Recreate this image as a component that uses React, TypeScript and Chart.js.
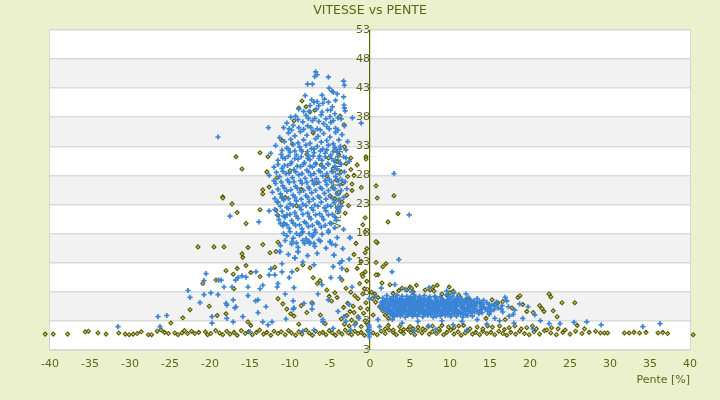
import { useEffect, useRef } from "react";
import { Chart, registerables } from "chart.js";

Chart.register(...registerables);

const chartTitle = "VITESSE vs PENTE";
const xAxisTitle = "Pente [%]";
const yAxisTitle = "Vitesse [km/h]";

const xMin = -40;
const xMax = 40;
const xStep = 5;
const yTickValues = [-2, 3, 8, 13, 18, 23, 28, 33, 38, 43, 48, 53];
const yTickLabels = ["3", "3", "8", "13", "18", "23", "28", "33", "38", "43", "48", "53"];

// Blue series: upper hump (descending slopes)
const blueHumpTop: [number, number][] = [
  [-6.8, 45.8], [-6.9, 45.0], [-7.8, 43.7], [-7.2, 43.7], [-5.2, 44.9], [-3.3, 44.2], [-3.2, 43.5], [-5.1, 43.0],
  [-4.6, 42.3], [-8.1, 41.7], [-6.0, 41.8], [-5.7, 41.1], [-4.1, 42.0], [-3.3, 41.5], [-3.2, 39.6], [-7.0, 40.6],
  [-6.4, 40.0], [-8.9, 39.4], [-7.6, 39.0], [-5.3, 39.2], [-4.4, 38.6], [-9.3, 38.2], [-6.1, 38.4], [-3.6, 37.7],
  [-2.2, 37.9], [-10.4, 37.0], [-8.4, 37.2], [-7.2, 37.4], [-5.8, 36.9], [-4.9, 37.1], [-12.7, 36.2], [-10.8, 36.2],
  [-10.1, 36.0], [-19.0, 34.6], [-1.1, 37.0], [-3.25, 40.1], [-3.1, 39.1], [-4.75, 42.5], [-6.6, 45.3],
  [-9.9, 38.0], [-8.0, 38.3], [-6.9, 37.8], [-5.0, 38.1], [-4.0, 37.9], [-9.6, 36.6], [-8.9, 36.2], [-7.8, 36.5],
  [-6.6, 36.0], [-5.4, 36.4], [-4.3, 36.1], [-3.2, 36.5], [-7.5, 40.0], [-5.9, 40.4], [-4.7, 39.8],
  [-9.8, 35.8], [-8.3, 35.9], [-7.4, 36.2], [-6.2, 35.8], [-5.1, 36.0], [-4.0, 35.8], [-9.0, 37.6], [-7.7, 37.8],
  [-6.4, 37.3], [-5.5, 37.7], [-4.6, 37.4], [-8.3, 39.0], [-6.7, 39.4], [-6.0, 38.9], [-4.9, 39.2], [-7.3, 41.0],
  [-6.6, 40.7], [-5.2, 40.6], [-4.3, 40.9],
];

const blueHumpCore: [number, number][] = [
  [-10.2, 35.3], [-9.4, 34.8], [-8.7, 35.5], [-7.9, 34.9], [-7.1, 35.6], [-6.5, 34.7], [-5.8, 35.2], [-5.0, 34.6], [-4.3, 35.4], [-3.5, 35.0], [-11.3, 34.5],
  [-10.7, 33.8], [-9.9, 34.2], [-9.0, 33.6], [-8.3, 34.1], [-7.5, 33.5], [-6.8, 34.3], [-6.1, 33.7], [-5.4, 34.0], [-4.6, 33.4], [-3.9, 34.1], [-2.8, 33.8],
  [-11.8, 33.1], [-10.4, 32.7], [-9.6, 33.3], [-8.8, 32.9], [-8.0, 33.2], [-7.3, 32.6], [-6.6, 33.0], [-5.9, 32.5], [-5.2, 33.2], [-4.4, 32.8], [-3.7, 33.0], [-3.0, 32.4],
  [-12.4, 31.8], [-11.1, 31.6], [-10.0, 32.0], [-9.2, 31.5], [-8.5, 32.1], [-7.7, 31.4], [-7.0, 31.9], [-6.3, 31.3], [-5.6, 31.8], [-4.9, 31.5], [-4.1, 32.0], [-3.3, 31.2],
  [-11.5, 30.6], [-10.6, 30.9], [-9.8, 30.3], [-9.0, 30.8], [-8.2, 30.2], [-7.5, 30.7], [-6.8, 30.1], [-6.0, 30.6], [-5.3, 30.0], [-4.5, 30.5], [-3.8, 30.2], [-2.6, 30.4],
  [-12.0, 29.4], [-11.0, 29.2], [-10.3, 29.7], [-9.5, 29.0], [-8.7, 29.5], [-7.9, 28.9], [-7.2, 29.4], [-6.4, 28.8], [-5.7, 29.3], [-4.8, 28.7], [-4.1, 29.1], [-3.2, 28.6],
  [-12.6, 28.0], [-11.3, 27.8], [-10.5, 28.3], [-9.7, 27.6], [-8.9, 28.1], [-8.1, 27.5], [-7.4, 28.0], [-6.7, 27.4], [-5.9, 27.9], [-5.1, 27.3], [-4.3, 27.8], [-3.5, 27.2],
  [-11.8, 26.6], [-10.9, 26.2], [-10.1, 26.8], [-9.3, 26.1], [-8.5, 26.6], [-7.7, 26.0], [-7.0, 26.5], [-6.2, 25.9], [-5.4, 26.4], [-4.6, 25.8], [-3.8, 26.3], [-2.9, 25.7],
  [-12.2, 25.1], [-11.2, 24.8], [-10.4, 25.3], [-9.6, 24.6], [-8.8, 25.1], [-8.0, 24.5], [-7.3, 25.0], [-6.5, 24.4], [-5.7, 24.9], [-4.9, 24.3], [-4.1, 24.8], [-3.3, 24.2],
  [-11.6, 23.4], [-10.8, 23.8], [-10.0, 23.1], [-9.2, 23.6], [-8.4, 23.0], [-7.6, 23.5], [-6.9, 22.9], [-6.1, 23.4], [-5.3, 22.8], [-4.5, 23.3], [-3.6, 22.7],
  [-11.9, 22.1], [-11.0, 21.8], [-10.2, 22.3], [-9.4, 21.6], [-8.6, 22.1], [-7.8, 21.5], [-7.1, 22.0], [-6.3, 21.4], [-5.5, 21.9], [-4.7, 21.3], [-3.9, 21.8],
  [-11.4, 20.4], [-10.6, 20.8], [-9.8, 20.2], [-9.0, 20.6], [-8.2, 20.0], [-7.4, 20.5], [-6.6, 19.9], [-5.8, 20.4], [-5.0, 19.8], [-4.2, 20.3],
  [-10.9, 19.3], [-10.1, 18.9], [-9.3, 19.4], [-8.5, 18.8], [-7.7, 19.2], [-6.9, 18.6], [-6.1, 19.1], [-5.2, 18.5], [-4.4, 19.0], [-3.3, 18.7],
  [-10.4, 17.6], [-9.6, 17.2], [-8.8, 17.7], [-8.0, 17.1], [-7.6, 16.6], [-7.2, 17.5], [-6.4, 16.9], [-5.0, 16.6], [-4.1, 17.3], [-2.5, 17.3],
  [-11.2, 15.9], [-9.8, 16.2], [-9.0, 15.6], [-8.2, 16.3], [-6.9, 15.8], [-5.5, 15.5], [-4.3, 16.0], [-3.4, 15.4],
  [-11.3, 14.9], [-10.2, 14.4], [-9.0, 14.9], [-7.8, 14.2], [-6.6, 14.6], [-4.5, 14.3], [-3.5, 13.3],
  [-12.4, 11.9], [-11.0, 12.8], [-9.4, 13.8], [-8.4, 13.1], [-7.0, 12.6], [-4.6, 12.3], [-3.8, 12.9], [-2.6, 13.6],
];

const blueHumpFill: [number, number][] = [
  [-11.0, 32.3], [-10.2, 32.5], [-9.4, 32.2], [-8.6, 32.4], [-7.8, 32.1], [-7.0, 32.5], [-6.2, 32.2], [-5.4, 32.4], [-4.6, 32.1], [-3.8, 32.5],
  [-10.9, 31.0], [-10.2, 31.3], [-9.4, 30.9], [-8.6, 31.2], [-7.8, 30.9], [-7.1, 31.3], [-6.4, 30.9], [-5.6, 31.2], [-4.8, 30.9], [-4.0, 31.2], [-3.0, 31.0],
  [-11.5, 29.9], [-10.7, 29.7], [-9.9, 30.0], [-9.1, 29.6], [-8.3, 29.9], [-7.5, 29.6], [-6.8, 29.9], [-6.0, 29.6], [-5.2, 29.9], [-4.4, 29.6], [-3.6, 29.9],
  [-11.7, 28.5], [-10.9, 28.7], [-10.1, 28.4], [-9.3, 28.6], [-8.5, 28.3], [-7.7, 28.6], [-7.0, 28.3], [-6.2, 28.6], [-5.4, 28.3], [-4.6, 28.6], [-3.8, 28.3],
  [-12.0, 27.1], [-11.1, 26.9], [-10.3, 27.2], [-9.5, 26.9], [-8.7, 27.1], [-7.9, 26.8], [-7.2, 27.1], [-6.4, 26.8], [-5.6, 27.1], [-4.8, 26.8], [-4.0, 27.1], [-3.1, 26.9],
  [-11.5, 25.6], [-10.7, 25.8], [-9.9, 25.5], [-9.1, 25.8], [-8.3, 25.4], [-7.6, 25.7], [-6.8, 25.4], [-6.0, 25.7], [-5.2, 25.4], [-4.4, 25.7], [-3.6, 25.4],
  [-11.9, 24.0], [-11.0, 24.3], [-10.2, 24.0], [-9.4, 24.2], [-8.6, 23.9], [-7.8, 24.2], [-7.1, 23.9], [-6.3, 24.2], [-5.5, 23.9], [-4.7, 24.1], [-3.9, 23.8],
  [-11.2, 22.7], [-10.4, 22.5], [-9.6, 22.8], [-8.8, 22.5], [-8.0, 22.8], [-7.3, 22.4], [-6.5, 22.7], [-5.7, 22.4], [-4.9, 22.7], [-4.1, 22.4],
  [-11.6, 21.2], [-10.8, 21.0], [-10.0, 21.3], [-9.2, 21.0], [-8.4, 21.3], [-7.6, 20.9], [-6.8, 21.2], [-6.0, 20.9], [-5.2, 21.2], [-4.4, 20.9],
  [-11.2, 19.7], [-10.4, 19.5], [-9.6, 19.8], [-8.8, 19.5], [-8.0, 19.8], [-7.2, 19.4], [-6.4, 19.7], [-5.6, 19.4], [-4.8, 19.7],
  [-10.8, 18.0], [-10.0, 18.3], [-9.2, 18.0], [-8.4, 18.3], [-7.6, 18.0], [-6.8, 18.2], [-6.0, 17.9], [-5.2, 18.2],
  [-10.6, 16.8], [-9.2, 16.4], [-8.4, 16.8], [-7.0, 16.3], [-6.2, 16.7], [-4.8, 16.2],
];

const blueLeft: [number, number][] = [
  [-17.5, 21.0], [-13.9, 20.0], [-12.6, 21.9], [-11.5, 23.4], [-11.0, 24.1], [-10.4, 21.2], [-10.75, 19.8], [-9.75, 16.6],
  [-7.75, 16.6], [-7.5, 16.3], [-9.0, 14.9], [-9.4, 13.8], [-11.25, 14.9], [-8.5, 18.1], [-7.1, 17.8], [-5.0, 16.6],
  [-4.5, 14.3], [-2.5, 17.3], [-20.5, 11.1], [-20.75, 9.9], [-18.9, 10.0], [-18.6, 10.0], [-22.75, 8.2], [-22.5, 7.0],
  [-20.75, 7.5], [-19.9, 7.8], [-19.0, 7.5], [-21.25, 6.1], [-18.25, 8.8], [-17.25, 8.8], [-16.5, 10.4], [-16.8, 10.0],
  [-16.0, 10.7], [-15.5, 10.5], [-15.25, 8.8], [-14.25, 11.4], [-13.75, 8.5], [-13.4, 9.1], [-12.6, 10.9], [-12.4, 11.9],
  [-11.9, 10.9], [-11.6, 8.8], [-11.5, 9.4], [-11.0, 11.4], [-10.1, 10.4], [-9.75, 11.4], [-18.0, 6.0], [-17.1, 6.6],
  [-16.75, 5.4], [-15.25, 7.3], [-14.0, 6.6], [-13.0, 5.4], [-14.0, 4.4], [-13.4, 2.8], [-12.75, 2.3], [-9.5, 5.2],
  [-8.25, 6.0], [-7.25, 5.0], [-10.6, 7.6], [-9.6, 6.4], [-9.5, 8.7], [-6.5, 7.6], [-6.0, 9.2], [-5.9, 3.2],
  [-4.9, 10.4], [-3.75, 10.4], [-3.5, 12.0], [-3.25, 3.7], [-2.6, 5.8], [-2.25, 8.8], [-25.4, 3.9], [-26.5, 3.7],
  [-26.25, 2.0], [-31.5, 2.0], [-19.75, 3.7], [-19.75, 2.6], [-17.9, 5.7], [-17.9, 3.4], [-16.9, 5.2], [-17.1, 2.8],
  [-15.9, 3.7], [-14.3, 6.4], [-12.25, 2.8], [-10.5, 3.3], [-9.6, 5.0], [-7.2, 5.9], [-5.9, 2.8], [-4.6, 1.7],
  [-3.0, 2.9], [-1.9, 2.3], [-2.4, 1.4], [-8.4, 1.2], [-15.0, 1.1], [-7.0, 1.4], [-0.1, 0.2], [-0.1, 0.6],
  [-0.1, 1.0], [-0.1, 1.4], [-0.1, 1.8], [-0.1, 2.2], [-0.1, 6.8], [-1.4, 3.4], [-4.0, 4.6], [-5.2, 6.6],
];

// Blue series: uphill cluster
const blueCluster: [number, number][] = [
  [2.1, 7.3], [3.4, 7.4], [4.6, 7.2], [5.5, 7.5], [6.8, 7.3], [8.1, 7.2], [9.7, 7.4], [11.2, 7.1],
  [1.6, 6.9], [2.5, 6.8], [3.2, 7.0], [4.0, 6.8], [4.9, 6.9], [5.7, 7.0], [6.4, 6.8], [7.3, 6.9], [8.2, 7.0], [9.0, 6.8], [9.9, 6.9], [10.8, 6.8], [12.3, 7.0], [13.4, 6.8],
  [1.9, 6.4], [2.7, 6.5], [3.4, 6.6], [4.1, 6.4], [4.8, 6.5], [5.5, 6.6], [6.2, 6.4], [6.9, 6.5], [7.6, 6.6], [8.3, 6.4], [9.0, 6.5], [9.7, 6.6], [10.4, 6.4], [11.1, 6.5], [11.9, 6.6], [13.0, 6.4], [14.2, 6.5],
  [1.4, 6.1], [2.2, 6.0], [2.9, 6.2], [3.6, 6.1], [4.3, 6.0], [5.0, 6.2], [5.7, 6.1], [6.4, 6.0], [7.1, 6.2], [7.8, 6.1], [8.5, 6.0], [9.2, 6.2], [9.9, 6.1], [10.6, 6.0], [11.4, 6.2], [12.2, 6.1], [13.3, 6.0], [14.6, 6.1], [15.8, 6.2],
  [1.7, 5.7], [2.4, 5.6], [3.1, 5.8], [3.8, 5.7], [4.5, 5.6], [5.2, 5.8], [5.9, 5.7], [6.6, 5.6], [7.3, 5.8], [8.0, 5.7], [8.7, 5.6], [9.4, 5.8], [10.1, 5.7], [10.8, 5.6], [11.6, 5.8], [12.4, 5.7], [13.2, 5.6], [14.1, 5.8], [15.2, 5.7], [16.5, 5.6],
  [1.3, 5.3], [2.0, 5.2], [2.8, 5.4], [3.5, 5.3], [4.2, 5.2], [4.9, 5.4], [5.6, 5.3], [6.3, 5.2], [7.0, 5.4], [7.7, 5.3], [8.4, 5.2], [9.1, 5.4], [9.8, 5.3], [10.5, 5.2], [11.3, 5.4], [12.1, 5.3], [12.9, 5.2], [13.8, 5.4], [14.8, 5.3], [16.0, 5.2], [17.3, 5.4],
  [1.8, 4.9], [2.5, 4.8], [3.2, 5.0], [3.9, 4.9], [4.6, 4.8], [5.3, 5.0], [6.0, 4.9], [6.7, 4.8], [7.4, 5.0], [8.1, 4.9], [8.8, 4.8], [9.5, 5.0], [10.2, 4.9], [10.9, 4.8], [11.7, 5.0], [12.5, 4.9], [13.4, 4.8], [14.4, 5.0], [15.5, 4.9], [18.1, 4.8],
  [2.2, 4.5], [2.9, 4.4], [3.6, 4.6], [4.3, 4.5], [5.0, 4.4], [5.7, 4.6], [6.4, 4.5], [7.1, 4.4], [7.8, 4.6], [8.5, 4.5], [9.2, 4.4], [9.9, 4.6], [10.6, 4.5], [11.4, 4.4], [12.3, 4.6], [13.1, 4.5], [14.0, 4.4], [15.1, 4.6], [16.6, 4.5],
  [2.6, 4.1], [3.4, 4.0], [4.1, 4.2], [4.8, 4.1], [5.5, 4.0], [6.2, 4.2], [6.9, 4.1], [7.6, 4.0], [8.3, 4.2], [9.0, 4.1], [9.7, 4.0], [10.5, 4.2], [11.3, 4.1], [12.0, 4.0], [13.6, 4.2], [14.9, 4.1],
  [3.0, 3.7], [4.4, 3.6], [5.3, 3.8], [6.6, 3.7], [7.9, 3.6], [8.8, 3.8], [10.1, 3.7], [11.6, 3.6], [12.8, 3.8],
];

const blueClusterFill: [number, number][] = [
  [2.8, 7.1], [4.0, 7.2], [5.1, 7.1], [6.2, 7.2], [7.5, 7.1], [8.8, 7.1], [10.3, 7.2],
  [2.1, 6.7], [2.9, 6.6], [3.7, 6.7], [4.5, 6.6], [5.2, 6.7], [6.0, 6.6], [6.7, 6.7], [7.5, 6.6], [8.3, 6.7], [9.1, 6.6], [9.9, 6.7], [10.7, 6.6], [11.5, 6.7], [12.5, 6.6],
  [1.6, 6.3], [2.4, 6.2], [3.1, 6.3], [3.9, 6.2], [4.6, 6.3], [5.3, 6.2], [6.0, 6.3], [6.7, 6.2], [7.4, 6.3], [8.1, 6.2], [8.8, 6.3], [9.5, 6.2], [10.2, 6.3], [10.9, 6.2], [11.7, 6.3], [12.6, 6.2], [13.7, 6.3],
  [1.9, 5.9], [2.6, 5.8], [3.3, 5.9], [4.0, 5.8], [4.7, 5.9], [5.4, 5.8], [6.1, 5.9], [6.8, 5.8], [7.5, 5.9], [8.2, 5.8], [8.9, 5.9], [9.6, 5.8], [10.3, 5.9], [11.0, 5.8], [11.8, 5.9], [12.7, 5.8], [13.8, 5.9], [14.9, 5.8],
  [1.5, 5.5], [2.3, 5.4], [3.0, 5.5], [3.7, 5.4], [4.4, 5.5], [5.1, 5.4], [5.8, 5.5], [6.5, 5.4], [7.2, 5.5], [7.9, 5.4], [8.6, 5.5], [9.3, 5.4], [10.0, 5.5], [10.7, 5.4], [11.5, 5.5], [12.3, 5.4], [13.1, 5.5], [14.2, 5.4], [15.6, 5.5],
  [1.6, 5.1], [2.3, 5.0], [3.0, 5.1], [3.7, 5.0], [4.4, 5.1], [5.1, 5.0], [5.8, 5.1], [6.5, 5.0], [7.2, 5.1], [7.9, 5.0], [8.6, 5.1], [9.3, 5.0], [10.0, 5.1], [10.7, 5.0], [11.5, 5.1], [12.3, 5.0], [13.1, 5.1], [14.0, 5.0], [15.0, 5.1], [16.4, 5.0],
  [2.0, 4.7], [2.7, 4.6], [3.4, 4.7], [4.1, 4.6], [4.8, 4.7], [5.5, 4.6], [6.2, 4.7], [6.9, 4.6], [7.6, 4.7], [8.3, 4.6], [9.0, 4.7], [9.7, 4.6], [10.4, 4.7], [11.1, 4.6], [11.9, 4.7], [12.8, 4.6], [13.7, 4.7], [14.7, 4.6],
  [2.5, 4.3], [3.2, 4.2], [3.9, 4.3], [4.6, 4.2], [5.3, 4.3], [6.0, 4.2], [6.7, 4.3], [7.4, 4.2], [8.1, 4.3], [8.8, 4.2], [9.5, 4.3], [10.2, 4.2], [10.9, 4.3], [11.7, 4.2], [12.6, 4.3],
  [3.0, 3.9], [3.8, 3.8], [4.7, 3.9], [5.9, 3.8], [7.2, 3.9], [8.3, 3.8], [9.4, 3.9], [10.8, 3.8], [12.2, 3.9],
];

const blueRight: [number, number][] = [
  [1.4, 8.6], [3.1, 9.2], [4.4, 8.4], [5.2, 8.0], [7.4, 8.7], [9.6, 8.1], [10.5, 7.8], [12.0, 7.6], [2.8, 3.2],
  [4.0, 2.6], [6.0, 2.9], [7.3, 2.1], [9.0, 3.0], [10.4, 2.3], [11.5, 2.9], [13.4, 3.2], [14.6, 2.4], [16.2, 3.0],
  [17.4, 3.8], [18.0, 2.6], [19.1, 3.4], [19.75, 5.4], [20.6, 4.0], [21.3, 3.0], [22.4, 2.5], [23.75, 2.5], [25.5, 2.7],
  [27.1, 2.8], [28.9, 2.3], [34.1, 2.0], [36.25, 2.5], [42.9, 0.6], [17.1, 6.4], [18.7, 5.9], [16.9, 7.0], [3.0, 28.3],
  [4.9, 21.2], [3.6, 13.5], [2.75, 11.4], [0.6, 7.2], [1.0, 3.2], [1.2, 2.0], [5.5, 1.2], [8.2, 1.5], [12.1, 1.4],
  [20.4, 1.6], [15.6, 3.4], [17.9, 4.1],
];

// Olive series: near-flat base
const oliveBase: [number, number][] = [
  [-44.5, 1.3], [-41.8, 0.9], [-40.6, 0.7], [-39.6, 0.7], [-37.8, 0.7], [-35.6, 1.1], [-35.2, 1.2], [-34.0, 0.9], [-33.0, 0.7],
  [-31.4, 0.9], [-30.6, 0.7], [-30.1, 0.6], [-29.6, 0.7], [-29.1, 0.8], [-28.6, 1.1], [-27.7, 0.6], [-27.3, 0.6], [-26.6, 1.2],
  [-26.1, 1.4], [-25.7, 1.0], [-25.2, 0.8], [-24.4, 0.9], [-24.0, 0.6], [-23.5, 0.9], [-23.2, 1.3], [-22.8, 0.8], [-22.3, 1.2],
  [-21.9, 0.8], [-21.4, 1.0], [-20.6, 1.1], [-20.3, 0.6], [-19.9, 0.8], [-19.3, 1.3], [-18.8, 0.9], [-18.4, 0.6], [-17.9, 1.2],
  [-17.5, 0.7], [-17.0, 1.0], [-16.6, 0.5], [-16.1, 1.3], [-15.6, 0.8], [-15.2, 1.1], [-14.7, 0.6], [-14.2, 1.0], [-13.8, 1.4],
  [-13.3, 0.7], [-12.9, 1.0], [-12.4, 0.5], [-12.0, 1.2], [-11.5, 0.8], [-11.1, 1.1], [-10.6, 0.6], [-10.2, 1.3], [-9.8, 0.9],
  [-9.3, 0.5], [-8.9, 1.1], [-8.5, 0.7], [-8.0, 1.4], [-7.6, 0.9], [-7.2, 0.5], [-6.8, 1.2], [-6.3, 0.8], [-5.9, 1.0],
  [-5.5, 0.6], [-5.1, 1.3], [-4.7, 0.9], [-4.3, 0.5], [-3.9, 1.1], [-3.5, 0.7], [-3.1, 1.4], [-2.7, 0.9], [-2.3, 0.6],
  [-1.9, 1.2], [-1.5, 0.8], [-1.1, 1.0], [-0.7, 0.5], [-0.3, 1.3], [0.4, 0.9], [0.9, 0.6], [1.4, 1.2], [1.9, 0.8],
  [2.4, 1.4], [2.9, 1.0], [3.3, 0.6], [3.8, 1.2], [4.2, 0.8], [4.7, 1.5], [5.1, 1.0], [5.6, 0.6], [6.0, 1.3],
  [6.5, 0.9], [6.9, 1.4], [7.4, 0.7], [7.8, 1.1], [8.3, 0.8], [8.7, 1.3], [9.2, 0.6], [9.6, 1.0], [10.1, 1.4],
  [10.5, 0.7], [11.0, 1.1], [11.4, 0.5], [11.9, 0.9], [12.3, 1.3], [12.8, 0.7], [13.2, 1.0], [13.7, 0.6], [14.1, 1.2],
  [14.6, 0.8], [15.1, 1.0], [15.6, 0.6], [16.1, 1.2], [16.6, 0.8], [17.1, 0.5], [17.6, 1.0], [18.2, 0.7], [18.7, 1.2],
  [19.3, 0.8], [19.9, 0.6], [20.5, 1.1], [21.2, 0.7], [21.8, 1.3], [22.6, 0.9], [23.3, 0.6], [24.1, 1.0], [25.0, 0.7],
  [25.7, 1.2], [26.5, 0.8], [27.4, 1.0], [28.2, 1.2], [28.8, 0.9], [29.3, 0.9], [29.7, 0.9], [31.8, 0.9], [32.4, 0.9],
  [33.0, 1.0], [33.7, 0.9], [34.5, 1.0], [36.0, 0.9], [36.6, 1.0], [37.2, 0.8], [40.4, 0.6], [40.9, 0.9],
];

// Olive series: downhill spread
const oliveLeft: [number, number][] = [
  [-18.4, 24.3], [-16.75, 31.2], [-16.0, 29.1], [-13.75, 31.9], [-12.75, 31.2], [-12.9, 28.6], [-13.4, 25.5], [-12.6, 26.0],
  [-11.6, 27.6], [-11.0, 34.0], [-9.5, 37.4], [-8.9, 39.6], [-8.5, 40.8], [-8.0, 39.8], [-7.5, 38.9], [-6.9, 39.2],
  [-3.75, 38.2], [-3.25, 36.7], [-2.4, 31.0], [-1.6, 29.8], [-2.4, 29.0], [-0.5, 31.2], [-0.5, 30.8], [-2.0, 28.0],
  [-1.1, 25.9], [-2.25, 26.5], [-2.25, 25.4], [-4.4, 32.4], [-3.9, 31.6], [-3.2, 32.9], [-4.1, 30.4], [-3.0, 30.0],
  [-4.6, 29.2], [-3.6, 28.6], [-2.8, 27.8], [-4.2, 27.2], [-3.4, 26.6], [-4.7, 25.9], [-3.9, 25.1], [-2.9, 24.6],
  [-4.4, 24.0], [-3.5, 23.4], [-2.7, 22.8], [-4.0, 22.3], [-3.1, 21.5], [-5.2, 31.0], [-5.4, 27.9], [-5.0, 24.5],
  [-6.1, 29.8], [-6.7, 26.7], [-7.9, 31.6], [-8.6, 25.6], [-9.2, 22.8], [-10.0, 28.8], [-10.6, 24.2], [-9.7, 33.4],
  [-7.1, 35.3], [-18.4, 24.1], [-17.25, 23.1], [-16.6, 21.6], [-15.5, 19.7], [-13.75, 22.1], [-13.4, 24.8], [-11.75, 22.0],
  [-11.5, 21.1], [-21.5, 15.7], [-19.5, 15.7], [-18.25, 15.7], [-16.0, 14.5], [-15.9, 13.9], [-15.25, 15.6], [-13.4, 16.1],
  [-12.5, 14.7], [-11.75, 14.9], [-11.5, 16.5], [-18.0, 11.6], [-19.25, 10.0], [-20.9, 9.4], [-16.6, 12.0], [-17.1, 11.0],
  [-15.5, 12.5], [-14.9, 11.3], [-13.75, 10.6], [-11.9, 12.2], [-9.1, 11.8], [-8.4, 12.6], [-7.5, 12.1], [-7.1, 10.4],
  [-6.6, 9.4], [-6.25, 9.9], [-11.5, 6.8], [-10.9, 5.9], [-10.4, 5.0], [-9.9, 4.2], [-9.5, 3.8], [-8.6, 5.6],
  [-7.9, 4.4], [-7.25, 6.1], [-5.4, 8.3], [-5.1, 7.2], [-4.8, 6.4], [-4.4, 7.8], [-4.1, 7.0], [-3.5, 10.0],
  [-2.9, 11.7], [-3.0, 8.6], [-2.8, 6.0], [-2.5, 4.6], [-2.1, 5.5], [-18.0, 4.2], [-19.1, 3.9], [-15.25, 2.8],
  [-14.9, 2.2], [-22.5, 4.9], [-23.4, 3.5], [-24.9, 2.6], [-20.1, 5.5], [-17.0, 8.5], [-3.6, 3.3], [-3.2, 2.4],
  [-2.9, 3.9], [-2.6, 2.1], [-2.3, 3.1], [-2.0, 4.4], [-1.8, 2.6], [-1.5, 6.8], [-1.5, 3.7], [-1.2, 5.2],
  [-1.1, 2.0], [-0.9, 7.6], [-0.8, 4.3], [-0.6, 3.0], [-0.5, 6.1], [-0.3, 5.0], [-0.3, 2.3], [-1.9, 7.3],
  [-2.4, 7.9], [-0.7, 8.5], [-1.3, 9.4], [-0.6, 20.7], [-0.9, 19.5], [-0.6, 18.3], [-1.75, 16.3], [-1.1, 13.2],
  [-2.0, 14.4], [-1.6, 12.0], [-0.4, 9.8], [-1.0, 11.0], [-3.3, 5.3], [-6.2, 4.0], [-5.6, 2.5], [-8.9, 2.4],
];

// Olive series: uphill spread
const oliveRight: [number, number][] = [
  [0.9, 16.4], [-0.6, 14.7], [-0.4, 15.4], [0.75, 13.0], [2.0, 12.8], [1.6, 12.3], [1.0, 10.9], [0.75, 10.9],
  [-0.6, 11.4], [-0.9, 10.6], [1.5, 9.5], [2.5, 9.2], [5.0, 8.8], [5.4, 8.0], [7.5, 8.3], [8.0, 8.1],
  [9.9, 8.8], [10.0, 7.8], [11.25, 6.3], [11.6, 5.3], [12.1, 6.6], [12.5, 6.6], [13.1, 5.8], [13.75, 6.1],
  [14.0, 5.3], [15.25, 6.6], [15.6, 5.8], [16.0, 6.1], [16.6, 6.3], [17.75, 5.2], [18.5, 7.0], [18.75, 7.3],
  [19.1, 5.8], [19.6, 4.6], [20.4, 4.4], [21.5, 5.1], [21.75, 4.6], [21.2, 5.6], [22.9, 4.7], [23.4, 3.7],
  [24.0, 6.1], [25.6, 6.1], [22.6, 7.1], [22.4, 7.6], [0.6, 7.6], [1.0, 7.0], [0.7, 6.2], [1.2, 5.4],
  [1.6, 4.7], [1.9, 4.0], [2.1, 4.3], [2.3, 3.4], [2.9, 7.7], [3.6, 8.2], [4.0, 8.6], [4.6, 8.3],
  [5.2, 8.6], [5.8, 9.1], [6.9, 8.3], [7.9, 8.8], [8.4, 9.1], [9.0, 7.6], [9.6, 7.4], [10.4, 8.1],
  [11.1, 7.4], [1.9, 1.6], [2.3, 2.2], [2.9, 1.4], [3.7, 2.0], [4.2, 1.5], [5.0, 2.0], [5.4, 1.6],
  [6.0, 1.9], [6.6, 1.6], [7.3, 2.0], [7.8, 2.1], [8.6, 1.6], [9.0, 2.2], [9.8, 1.9], [10.5, 1.8],
  [11.1, 2.1], [11.7, 2.2], [12.5, 1.6], [13.4, 1.9], [14.1, 1.6], [14.7, 2.1], [15.3, 1.9], [16.2, 2.1],
  [16.8, 1.5], [17.4, 1.8], [18.1, 2.1], [18.9, 1.6], [19.6, 1.8], [20.3, 2.1], [20.8, 1.6], [22.1, 1.4],
  [22.7, 1.8], [23.5, 1.6], [24.4, 1.4], [0.75, 26.2], [0.9, 24.1], [3.0, 24.5], [3.5, 21.4], [2.25, 20.0],
  [0.75, 16.6], [0.3, 6.8], [0.2, 7.9], [0.4, 4.0], [16.9, 3.2], [14.5, 3.4], [26.8, 1.6], [25.9, 2.2],
];

const BG = "#ebf1cd";
const TEXT = "#5d6416";
const FONT = "'DejaVu Sans', sans-serif";

const toPts = (arr: [number, number][]) => arr.map(([x, y]) => ({ x, y }));

const decorPlugin = {
  id: "decor",
  beforeDraw(chart: any) {
    const { ctx, chartArea: a, scales } = chart;
    ctx.save();
    ctx.fillStyle = BG;
    ctx.fillRect(0, 0, chart.width, chart.height);
    ctx.fillStyle = "#ffffff";
    ctx.fillRect(a.left, a.top, a.right - a.left, a.bottom - a.top);
    const ys = scales.y;
    const vals = [...yTickValues].sort((p, q) => q - p);
    ctx.fillStyle = "#f2f2f2";
    for (let i = 0; i < vals.length - 1; i++) {
      if (i % 2 === 1) {
        const t = ys.getPixelForValue(vals[i]);
        const b = ys.getPixelForValue(vals[i + 1]);
        ctx.fillRect(a.left, t, a.right - a.left, b - t);
      }
    }
    ctx.restore();
  },
  beforeDatasetsDraw(chart: any) {
    const { ctx, chartArea: a, scales } = chart;
    ctx.save();
    ctx.strokeStyle = "#d6d6d6";
    ctx.lineWidth = 1;
    ctx.strokeRect(Math.round(a.left) - 0.5, Math.round(a.top) - 0.5, a.right - a.left + 1, a.bottom - a.top + 1);
    ctx.fillStyle = TEXT;
    ctx.font = `11px ${FONT}`;
    ctx.textAlign = "right";
    ctx.textBaseline = "middle";
    ctx.fillText(xAxisTitle, a.right, a.bottom + 30);
    const x0 = scales.x.getPixelForValue(0);
    ctx.translate(x0 - 32, (a.top + a.bottom) / 2);
    ctx.rotate(-Math.PI / 2);
    ctx.textAlign = "center";
    ctx.fillText(yAxisTitle, 0, 0);
    ctx.restore();
  },
};

export default function App() {
  const ref = useRef<HTMLCanvasElement | null>(null);

  useEffect(() => {
    if (!ref.current) return;
    const chart = new Chart(ref.current, {
      type: "scatter",
      data: {
        datasets: [
          {
            label: "blue",
            data: [
              ...toPts(blueHumpTop),
              ...toPts(blueHumpCore),
              ...toPts(blueHumpFill),
              ...toPts(blueLeft),
              ...toPts(blueCluster),
              ...toPts(blueClusterFill),
              ...toPts(blueRight),
            ],
            pointStyle: "cross",
            pointRadius: 2.6,
            borderWidth: 1.7,
            borderColor: "#3984d6",
            backgroundColor: "#3984d6",
            clip: false,
          },
          {
            label: "olive",
            data: [...toPts(oliveBase), ...toPts(oliveLeft), ...toPts(oliveRight)],
            pointStyle: "rectRot",
            pointRadius: 2,
            borderWidth: 1.1,
            borderColor: "#575a00",
            backgroundColor: "#cfcf80",
            clip: false,
          },
        ],
      },
      options: {
        animation: false,
        responsive: false,
        events: [],
        layout: { padding: { left: 50, right: 30, top: 0, bottom: 21 } },
        plugins: {
          legend: { display: false },
          tooltip: { enabled: false },
          title: {
            display: true,
            text: chartTitle,
            color: TEXT,
            font: { family: FONT, size: 12.5, weight: "normal" },
            padding: { top: 3, bottom: 12 },
          },
        },
        scales: {
          x: {
            type: "linear",
            position: "bottom",
            min: xMin,
            max: xMax,
            grid: { display: false, drawTicks: false },
            border: { display: false },
            ticks: {
              stepSize: xStep,
              color: TEXT,
              font: { family: FONT, size: 11 },
              padding: 8,
              maxRotation: 0,
            },
          },
          y: {
            type: "linear",
            position: { x: 0 } as any,
            min: yTickValues[0],
            max: yTickValues[yTickValues.length - 1],
            afterBuildTicks: (scale: any) => {
              scale.ticks = yTickValues.map((v) => ({ value: v }));
            },
            grid: { color: "#dadada", lineWidth: 1.5, drawTicks: false },
            border: { display: true, color: "#5a6000", width: 1.2 },
            ticks: {
              color: TEXT,
              font: { family: FONT, size: 11 },
              padding: 6,
              callback: (_v: any, i: number) => yTickLabels[i],
            },
          },
        },
      },
      plugins: [decorPlugin],
    });
    return () => chart.destroy();
  }, []);

  return (
    <div style={{ position: "fixed", left: 0, top: 0, width: 720, height: 400, background: BG }}>
      <canvas ref={ref} width={720} height={400} style={{ width: 720, height: 400, display: "block" }} />
    </div>
  );
}
